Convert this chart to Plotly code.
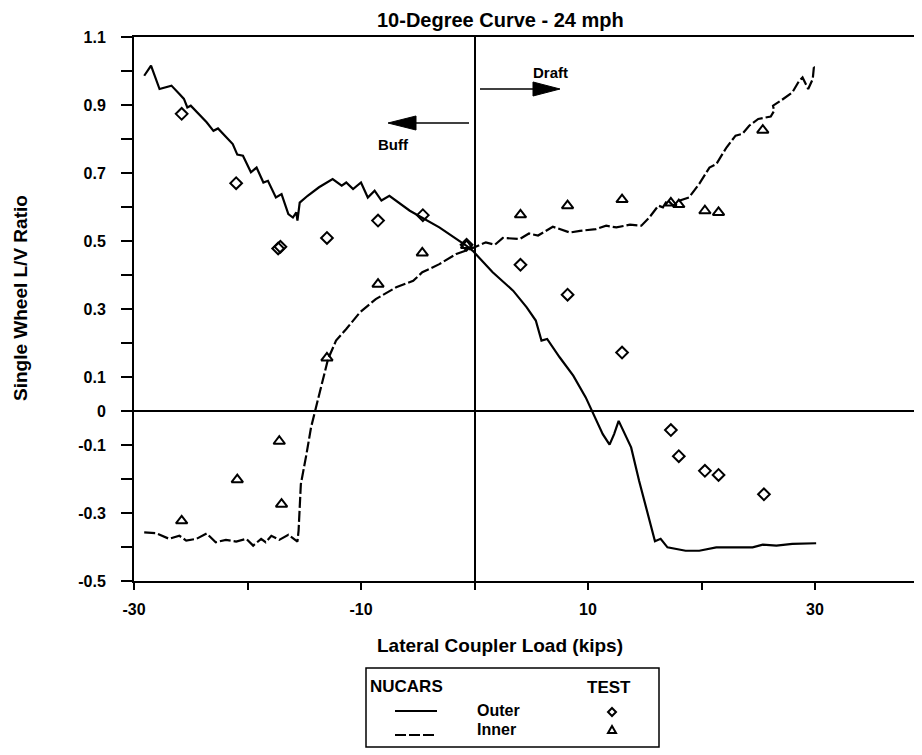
import plotly.graph_objects as go

# ---------------- data ----------------
outer_x = [-29.1, -28.5, -27.75, -26.7, -26.0, -25.6, -25.3, -25.0, -23.6, -23.0, -22.6, -21.3, -20.9,
           -20.4, -19.7, -19.2, -18.6, -18.2, -17.5, -17.0, -16.4, -16.0, -15.7, -15.6, -15.4, -14.7,
           -13.7, -12.5, -11.7, -11.3, -10.7, -10.0, -9.4, -8.8, -8.2, -7.5, -5.7, -3.1, -0.7, -0.15,
           1.6, 3.4, 4.6, 5.4, 5.9, 6.4, 7.5, 8.7, 9.8, 10.4, 11.3, 11.9, 12.3, 12.7, 13.1, 13.8, 14.5,
           15.1, 15.6, 15.9, 16.4, 17.0, 18.6, 19.8, 21.3, 23.0, 24.5, 25.4, 26.6, 28.0, 30.1]
outer_y = [0.986, 1.016, 0.947, 0.957, 0.932, 0.918, 0.893, 0.898, 0.849, 0.824, 0.831, 0.785, 0.754,
           0.751, 0.702, 0.716, 0.672, 0.677, 0.628, 0.638, 0.579, 0.569, 0.584, 0.560, 0.613, 0.633,
           0.658, 0.682, 0.663, 0.672, 0.653, 0.672, 0.628, 0.648, 0.619, 0.633, 0.589, 0.540, 0.486,
           0.471, 0.408, 0.354, 0.305, 0.266, 0.207, 0.212, 0.158, 0.104, 0.040, -0.004, -0.068, -0.099,
           -0.068, -0.029, -0.058, -0.107, -0.205, -0.283, -0.352, -0.383, -0.376, -0.401, -0.411,
           -0.411, -0.401, -0.401, -0.401, -0.393, -0.396, -0.391, -0.389]

inner_x = [-29.1, -28.1, -26.9, -26.0, -25.4, -24.5, -23.6, -22.8, -21.9, -21.0, -20.1, -19.5, -18.8,
           -18.4, -17.9, -17.2, -16.4, -15.6, -15.5, -15.3, -14.8, -14.4, -14.0, -13.5, -12.9, -12.2,
           -11.3, -10.1, -8.7, -6.9, -5.4, -4.6, -3.1, -1.6, -0.4, 1.0, 1.8, 2.5, 4.0, 4.8, 5.6, 6.9,
           8.4, 9.3, 10.7, 11.6, 12.5, 13.7, 14.7, 15.4, 16.2, 16.6, 17.0, 17.5, 18.1, 18.9, 19.8, 20.7,
           21.3, 22.2, 23.0, 23.6, 24.2, 25.0, 26.1, 26.4, 26.3, 27.0, 28.0, 28.6, 28.9, 29.4, 29.8,
           29.9, 29.75]
inner_y = [-0.357, -0.359, -0.376, -0.367, -0.381, -0.376, -0.360, -0.386, -0.379, -0.384, -0.376,
           -0.396, -0.376, -0.386, -0.367, -0.379, -0.364, -0.384, -0.352, -0.215, -0.126, -0.048,
           0.006, 0.069, 0.153, 0.207, 0.241, 0.290, 0.329, 0.364, 0.383, 0.408, 0.432, 0.462, 0.476,
           0.496, 0.489, 0.509, 0.506, 0.522, 0.516, 0.542, 0.525, 0.530, 0.535, 0.545, 0.540, 0.548,
           0.545, 0.569, 0.604, 0.599, 0.621, 0.604, 0.619, 0.628, 0.668, 0.716, 0.726, 0.775, 0.810,
           0.815, 0.839, 0.859, 0.866, 0.883, 0.898, 0.913, 0.937, 0.971, 0.981, 0.947, 0.976, 1.011,
           1.016]

test_outer_x = [-25.8, -21.0, -17.3, -17.1, -13.0, -8.5, -4.55, -0.7, 4.05, 8.2, 13.0, 17.3, 18.0,
                20.3, 21.5, 25.5]
test_outer_y = [0.874, 0.670, 0.478, 0.483, 0.509, 0.560, 0.576, 0.489, 0.430, 0.342, 0.172, -0.056,
                -0.133, -0.176, -0.188, -0.245]

test_inner_x = [-25.8, -20.9, -17.2, -17.0, -13.0, -8.5, -4.6, -0.7, 4.05, 8.2, 13.0, 17.3, 18.0,
                20.3, 21.5, 25.4]
test_inner_y = [-0.323, -0.202, -0.089, -0.274, 0.156, 0.373, 0.465, 0.487, 0.577, 0.604, 0.622,
                0.612, 0.607, 0.589, 0.584, 0.826]

x_tickvals = [-30, -20, -10, 0, 10, 20, 30]
x_ticktext = ["-30", "", "-10", "", "10", "", "30"]
y_tickvals = [-0.5, -0.4, -0.3, -0.2, -0.1, 0, 0.1, 0.2, 0.3, 0.4, 0.5, 0.6, 0.7, 0.8, 0.9, 1.0, 1.1]
y_ticktext = ["-0.5", "", "-0.3", "", "-0.1", "0", "0.1", "", "0.3", "", "0.5", "", "0.7", "", "0.9", "", "1.1"]

title_text = "10-Degree Curve - 24 mph"
x_title = "Lateral Coupler Load (kips)"
y_title = "Single Wheel L/V Ratio"

# ---------------- layout geometry ----------------
# the page has an 8px body margin, so the figure is placed at (8, 8)
OFF = 8
W, H = 914, 747
L, R, T, B = 126, 0, 29, 174
PW, PH = W - L - R, H - T - B


def px(x):
    """page pixel x -> paper coordinate"""
    return (x - OFF - L) / PW


def py(y):
    """page pixel y -> paper coordinate"""
    return (H - B - (y - OFF)) / PH


FONT = "Liberation Sans, Arial, sans-serif"

fig = go.Figure()
fig.add_trace(go.Scatter(x=outer_x, y=outer_y, mode="lines", name="NUCARS Outer",
                         line=dict(color="black", width=2.2)))
fig.add_trace(go.Scatter(x=inner_x, y=inner_y, mode="lines", name="NUCARS Inner",
                         line=dict(color="black", width=2.2, dash="11px,3px")))
fig.add_trace(go.Scatter(x=test_outer_x, y=test_outer_y, mode="markers", name="TEST Outer",
                         marker=dict(symbol="diamond-open", size=9, color="black",
                                     line=dict(color="black", width=2))))
fig.add_trace(go.Scatter(x=test_inner_x, y=test_inner_y, mode="markers", name="TEST Inner",
                         marker=dict(symbol="triangle-up-open", size=10, color="black",
                                     line=dict(color="black", width=2))))


def text(t, x, y, size, angle=0, xanchor="center"):
    return dict(text=t, x=px(x), y=py(y), xref="paper", yref="paper", textangle=angle,
                xanchor=xanchor, yanchor="middle", showarrow=False,
                font=dict(family=FONT, size=size, color="black", weight="bold"))


ann = [
    text(title_text, 500, 20, 20),
    text(x_title, 500, 645, 19),
    text(y_title, 20, 298, 19, angle=-90),
    text("Draft", 550, 72, 15),
    text("Buff", 393, 144, 15),
    text("NUCARS", 368, 686, 17, xanchor="left"),
    text("TEST", 609, 687, 17),
    text("Outer", 498, 710, 16),
    text("Inner", 496, 729, 16),
]

shapes = []
line_k = dict(color="black", width=1.5)
# legend frame
shapes.append(dict(type="rect", xref="paper", yref="paper", x0=px(366), x1=px(659), y0=py(668),
                   y1=py(747), line=dict(color="black", width=1.5)))
shapes.append(dict(type="line", xref="paper", yref="paper", x0=px(395), x1=px(437), y0=py(711),
                   y1=py(711), line=dict(color="black", width=2)))
shapes.append(dict(type="line", xref="paper", yref="paper", x0=px(395), x1=px(437), y0=py(735),
                   y1=py(735), line=dict(color="black", width=2, dash="11px,3px")))


def path(pts):
    return "M " + " L ".join(f"{px(a):.5f},{py(b):.5f}" for a, b in pts) + " Z"


# legend diamond and triangle
shapes.append(dict(type="path", xref="paper", yref="paper",
                   path=path([(612, 708), (616, 712), (612, 716), (608, 712)]),
                   line=dict(color="black", width=2)))
shapes.append(dict(type="path", xref="paper", yref="paper",
                   path=path([(612, 726), (616, 733), (608, 733)]),
                   line=dict(color="black", width=2)))
# Draft arrow
shapes.append(dict(type="line", xref="paper", yref="paper", x0=px(480), x1=px(535), y0=py(89),
                   y1=py(89), line=line_k))
shapes.append(dict(type="path", xref="paper", yref="paper",
                   path=path([(560, 89), (533, 82), (533, 96)]), fillcolor="black",
                   line=dict(color="black", width=1)))
# Buff arrow
shapes.append(dict(type="line", xref="paper", yref="paper", x0=px(414), x1=px(469), y0=py(123),
                   y1=py(123), line=line_k))
shapes.append(dict(type="path", xref="paper", yref="paper",
                   path=path([(388, 123), (416, 116), (416, 130)]), fillcolor="black",
                   line=dict(color="black", width=1)))

fig.update_layout(
    width=W, height=H, autosize=False,
    margin=dict(l=L, r=R, t=T, b=B, pad=0),
    paper_bgcolor="white", plot_bgcolor="white",
    showlegend=False,
    annotations=ann, shapes=shapes,
    font=dict(family=FONT, color="black"),
)
fig.update_xaxes(range=[-30, -30 + PW / 11.35], tickvals=x_tickvals, ticktext=x_ticktext,
                 showgrid=False, showline=True, linecolor="black", linewidth=2, mirror=True,
                 ticks="outside", ticklen=7, tickwidth=2, tickcolor="black",
                 zeroline=True, zerolinecolor="black", zerolinewidth=1.5,
                 tickfont=dict(family=FONT, size=16, color="black", weight="bold"),
                 ticklabelstandoff=6)
fig.update_yaxes(range=[-0.5, 1.1], tickvals=y_tickvals, ticktext=y_ticktext,
                 showgrid=False, showline=True, linecolor="black", linewidth=2,
                 ticks="outside", ticklen=11, tickwidth=2, tickcolor="black",
                 zeroline=True, zerolinecolor="black", zerolinewidth=1.5,
                 tickfont=dict(family=FONT, size=16, color="black", weight="bold"),
                 ticklabelstandoff=12)

fig.write_html("out.html")
